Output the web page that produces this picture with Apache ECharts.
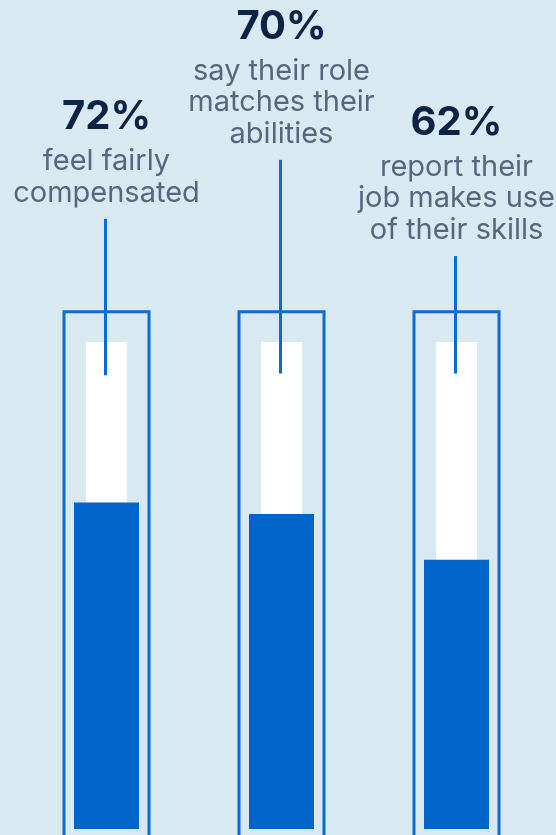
<!DOCTYPE html>
<html>
<head>
<meta charset="utf-8">
<script src="https://cdn.jsdelivr.net/npm/echarts@6/dist/echarts.min.js"></script>
<style>
    html, body { margin: 0; padding: 0; background: #d8e9f1; }
    #chart { width: 556px; height: 835px; }
</style>
</head>
<body>
<div id="chart"></div>
<script>
// data
const categories = ["compensated", "role", "skills"];
const percents = [72, 70, 62];
const fullScale = [100, 100, 100];
const captions = [
    ["feel fairly", "compensated"],
    ["say their role", "matches their", "abilities"],
    ["report their", "job makes use", "of their skills"]
];
// axis values where the frame starts and where the pointer lines start / end
const frameTop = [105.3, 105.3, 105.3];
const pointerTop = [121.5, 131.8, 115.0];
const pointerEnd = [94.2, 94.5, 94.5];

const AXIS_MIN = 15;
const BLUE = "#0064c8";
const LINE_BLUE = "#0b6bd0";
const FONT = "Inter";

const chart = echarts.init(document.getElementById("chart"));

function frameItem(params, api) {
    const idx = api.value(0);
    const top = api.coord([idx, api.value(1)]);
    const base = api.coord([idx, AXIS_MIN]);
    const w = 85;
    return {
        type: "rect",
        shape: { x: top[0] - w / 2, y: top[1], width: w, height: base[1] - top[1] + 40 },
        style: { fill: "none", stroke: LINE_BLUE, lineWidth: 3 }
    };
}

function pointerItem(params, api) {
    const idx = api.value(0);
    const start = api.coord([idx, api.value(1)]);
    const end = api.coord([idx, api.value(2)]);
    const cx = start[0] - 1;
    const lines = captions[idx];
    const pitch = 31.5;
    const lastY = start[1] - 26;
    const firstY = lastY - pitch * (lines.length - 1);
    const children = [{
        type: "line",
        shape: { x1: cx, y1: start[1], x2: cx, y2: end[1] },
        style: { stroke: LINE_BLUE, lineWidth: 3 }
    }, {
        type: "text",
        x: start[0],
        y: firstY - 44,
        style: {
            text: percents[idx] + "%",
            fill: "#0d2346",
            font: "bold 40px " + FONT,
            align: "center",
            verticalAlign: "middle"
        }
    }];
    lines.forEach((t, i) => {
        children.push({
            type: "text",
            x: start[0],
            y: firstY + i * pitch,
            style: {
                text: t,
                fill: "#56667f",
                font: "29px " + FONT,
                align: "center",
                verticalAlign: "middle"
            }
        });
    });
    return { type: "group", children: children };
}

const option = {
    backgroundColor: "#d8e9f1",
    animation: false,
    grid: { left: 19, right: 12, top: 342, bottom: 6 },
    xAxis: [
        { type: "category", data: categories, show: false },
        { type: "category", data: categories, show: false }
    ],
    yAxis: { type: "value", min: AXIS_MIN, max: 100, show: false },
    series: [
        {
            type: "bar",
            xAxisIndex: 1,
            data: fullScale,
            barWidth: 41,
            itemStyle: { color: "#ffffff" },
            z: 1
        },
        {
            type: "bar",
            xAxisIndex: 0,
            data: percents,
            barWidth: 65,
            itemStyle: { color: BLUE },
            z: 2
        },
        {
            type: "custom",
            renderItem: frameItem,
            data: categories.map((c, i) => [i, frameTop[i]]),
            clip: false,
            z: 3
        },
        {
            type: "custom",
            renderItem: pointerItem,
            data: categories.map((c, i) => [i, pointerTop[i], pointerEnd[i]]),
            clip: false,
            z: 4
        }
    ]
};

chart.setOption(option);
</script>
</body>
</html>
